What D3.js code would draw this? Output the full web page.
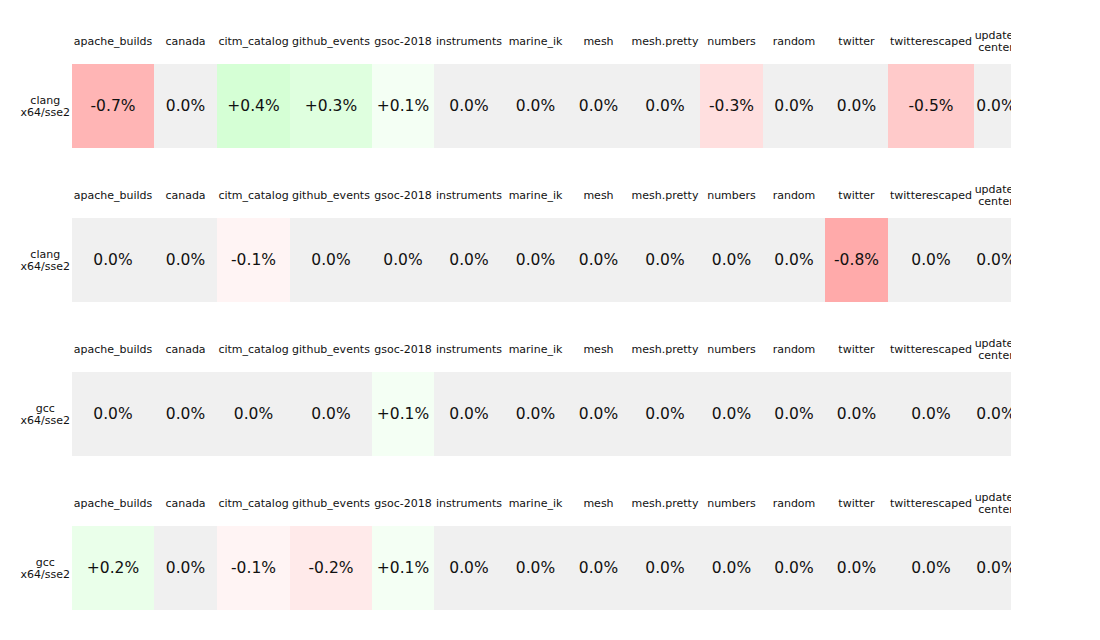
<!DOCTYPE html>
<html>
<head>
<meta charset="utf-8">
<script src="https://cdn.jsdelivr.net/npm/d3@7/dist/d3.min.js"></script>
<style>
  html, body { margin: 0; padding: 0; background: #ffffff; }
  svg { display: block; font-family: "DejaVu Sans", sans-serif; }
</style>
</head>
<body>
<svg id="chart" width="1100" height="640"></svg>
<script>
// ---- data ----
const categories = ["apache_builds", "canada", "citm_catalog", "github_events", "gsoc-2018",
  "instruments", "marine_ik", "mesh", "mesh.pretty", "numbers", "random", "twitter",
  "twitterescaped", "update-center"];
const rowLabels = [["clang", "x64/sse2"], ["clang", "x64/sse2"], ["gcc", "x64/sse2"], ["gcc", "x64/sse2"]];
const row1 = [-0.7, 0.0, 0.4, 0.3, 0.1, 0.0, 0.0, 0.0, 0.0, -0.3, 0.0, 0.0, -0.5, 0.0];
const row2 = [0.0, 0.0, -0.1, 0.0, 0.0, 0.0, 0.0, 0.0, 0.0, 0.0, 0.0, -0.8, 0.0, 0.0];
const row3 = [0.0, 0.0, 0.0, 0.0, 0.1, 0.0, 0.0, 0.0, 0.0, 0.0, 0.0, 0.0, 0.0, 0.0];
const row4 = [0.2, 0.0, -0.1, -0.2, 0.1, 0.0, 0.0, 0.0, 0.0, 0.0, 0.0, 0.0, 0.0, 0.0];
const rows = [row1, row2, row3, row4];

// ---- layout ----
const svg = d3.select("#chart");
const left = 72, clipRight = 1011;
const headFont = 11, valFont = 15.5;

function headLines(name) {
  if (name === "update-center") return ["update-", "center"];
  return [name];
}

const meas = svg.append("text").attr("font-size", headFont).attr("visibility", "hidden");
function textW(s, size) {
  meas.attr("font-size", size).text(s);
  return meas.node().getComputedTextLength();
}
const rawW = categories.map(c => {
  const lines = headLines(c);
  const w = d3.max(lines, l => textW(l, headFont));
  return lines.length > 1 ? w + 2 : Math.max(w + 3.4, 62.8);
});
meas.remove();

// integral, contiguous column edges
const edges = [left];
let acc = left;
rawW.forEach(w => { acc += w; edges.push(Math.round(acc)); });
const xStart = edges.slice(0, -1);
const colW = xStart.map((x, i) => edges[i + 1] - x);
const xPos = d3.scaleOrdinal().domain(categories).range(xStart);
const xWid = d3.scaleOrdinal().domain(categories).range(colW);

const yTop = d3.scaleLinear().domain([0, 1]).range([64, 218]);
const cellH = 84;

const color = d3.scaleLinear().domain([-0.8, 0, 0.8]).range(["#ffaaaa", "#ffffff", "#aaffaa"]);
const fill = v => (Math.abs(v) < 0.05 ? "#f0f0f0" : color(v));
const fmt = v => (Math.abs(v) < 0.05 ? "0.0%" : (v > 0 ? "+" : "") + v.toFixed(1) + "%");

svg.append("defs").append("clipPath").attr("id", "clip")
  .append("rect").attr("x", 0).attr("y", 0).attr("width", clipRight).attr("height", 640);

const root = svg.append("g").attr("clip-path", "url(#clip)");

rows.forEach((vals, ri) => {
  const g = root.append("g");
  const top = yTop(ri);

  categories.forEach(c => {
    const lines = headLines(c);
    const cx = xPos(c) + xWid(c) / 2;
    const cy = top - 23;
    const t = g.append("text")
      .attr("text-anchor", "middle")
      .attr("font-size", headFont)
      .attr("fill", "#111");
    lines.forEach((l, li) => {
      t.append("tspan")
        .attr("x", cx)
        .attr("y", cy + (li - (lines.length - 1) / 2) * 12.5)
        .attr("dy", "0.35em")
        .text(l);
    });
  });

  g.selectAll("rect.cell").data(vals).join("rect")
    .attr("class", "cell")
    .attr("x", (d, i) => xPos(categories[i]))
    .attr("y", top)
    .attr("width", (d, i) => xWid(categories[i]))
    .attr("height", cellH)
    .attr("shape-rendering", "crispEdges")
    .attr("fill", d => fill(d));

  g.selectAll("text.val").data(vals).join("text")
    .attr("class", "val")
    .attr("x", (d, i) => xPos(categories[i]) + xWid(categories[i]) / 2)
    .attr("y", top + cellH / 2)
    .attr("dy", "0.35em")
    .attr("text-anchor", "middle")
    .attr("font-size", valFont)
    .attr("fill", "#111")
    .text(d => fmt(d));

  const lines = rowLabels[ri];
  const tmp = g.append("text").attr("font-size", headFont).attr("visibility", "hidden");
  const maxW = d3.max(lines, l => { tmp.text(l); return tmp.node().getComputedTextLength(); });
  tmp.remove();
  const lx = 70 - maxW / 2;
  const lt = g.append("text").attr("text-anchor", "middle").attr("font-size", headFont).attr("fill", "#111");
  lines.forEach((l, li) => {
    lt.append("tspan")
      .attr("x", lx)
      .attr("y", top + cellH / 2 + (li - 0.5) * 12.5)
      .attr("dy", "0.35em")
      .text(l);
  });
});
</script>
</body>
</html>
